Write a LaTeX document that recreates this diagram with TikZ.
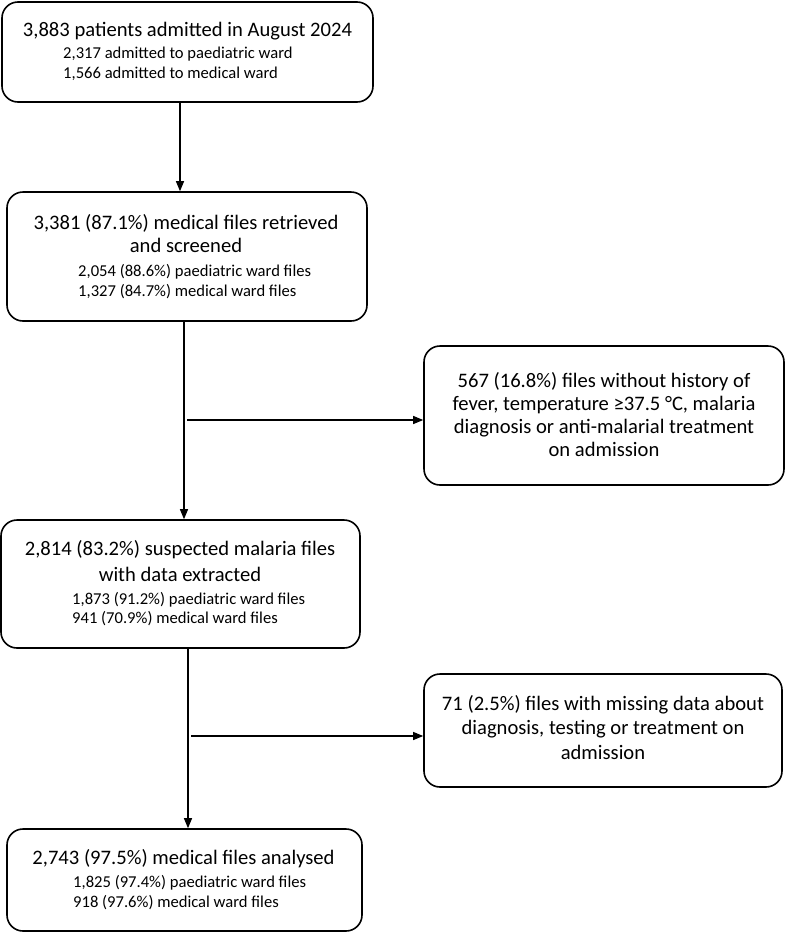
\documentclass[tikz,border=0pt]{standalone}
\usepackage{fontspec}
\setmainfont{Carlito}
\usetikzlibrary{arrows.meta}
\tikzset{
  box/.style={draw=black, line width=1.6pt, rounded corners=16pt, inner sep=0pt, fill=white},
  big/.style={inner sep=0pt, anchor=mid, font=\fontsize{20.6}{24}\selectfont, align=center},
  small/.style={inner sep=0pt, anchor=mid west, font=\fontsize{16.6}{19}\selectfont},
  arr/.style={line width=1.1pt, -{Triangle[length=10pt,width=8pt]}},
}
\begin{document}
\begin{tikzpicture}[x=1pt,y=-1pt]
\useasboundingbox[fill=white] (0,0) rectangle (786,932);
% boxes
\node[box, minimum width=371pt, minimum height=100pt] (b1) at (187.5,52) {};
\node[box, minimum width=360pt, minimum height=129pt] (b2) at (187,256.5) {};
\node[box, minimum width=360pt, minimum height=139pt] (b4) at (604,415.5) {};
\node[box, minimum width=359pt, minimum height=128pt] (b3) at (180.5,584) {};
\node[box, minimum width=358pt, minimum height=113pt] (b5) at (603,730.5) {};
\node[box, minimum width=355pt, minimum height=102pt] (b6) at (184.5,880) {};
% texts box 1
\node[big] (t1a) at (187.5,34) {3,883 patients admitted in August 2024};
\node[small] (t1b) at (63,56) {2,317 admitted to paediatric ward};
\node[small] (t1c) at (63,76) {1,566 admitted to medical ward};
% box 2
\node[big] (t2a) at (186,227) {3,381 (87.1\%) medical files retrieved};
\node[big] (t2b) at (186,250) {and screened};
\node[small] (t2c) at (78,274) {2,054 (88.6\%) paediatric ward files};
\node[small] (t2d) at (78,294) {1,327 (84.7\%) medical ward files};
% box 4
\node[big] (t4a) at (604,385) {567 (16.8\%) files without history of};
\node[big] (t4b) at (604,408) {fever, temperature ≥37.5 °C, malaria};
\node[big] (t4c) at (604,431) {diagnosis or anti-malarial treatment};
\node[big] (t4d) at (604,454) {on admission};
% box 3
\node[big] (t3a) at (180,553) {2,814 (83.2\%) suspected malaria files};
\node[big] (t3b) at (180,579) {with data extracted};
\node[small] (t3c) at (72,602) {1,873 (91.2\%) paediatric ward files};
\node[small] (t3d) at (72,621) {941 (70.9\%) medical ward files};
% box 5
\node[big] (t5a) at (603,708) {71 (2.5\%) files with missing data about};
\node[big] (t5b) at (603,732) {diagnosis, testing or treatment on};
\node[big] (t5c) at (603,757) {admission};
% box 6
\node[big] (t6a) at (183.5,862) {2,743 (97.5\%) medical files analysed};
\node[small] (t6b) at (73,885) {1,825 (97.4\%) paediatric ward files};
\node[small] (t6c) at (73,905) {918 (97.6\%) medical ward files};
% connector coordinates
\coordinate (x1) at (180,0);
\coordinate (x2) at (184,0);
\coordinate (x3) at (188,0);
\coordinate (h1) at (187,420);
\coordinate (h2) at (191,736);
% connectors
\draw[arr] (b1.south -| x1) -- (b2.north -| x1);
\draw[arr] (b2.south -| x2) -- (b3.north -| x2);
\draw[arr] (h1) -- (b4.west |- h1);
\draw[arr] (b3.south -| x3) -- (b6.north -| x3);
\draw[arr] (h2) -- (b5.west |- h2);
\end{tikzpicture}
\end{document}
